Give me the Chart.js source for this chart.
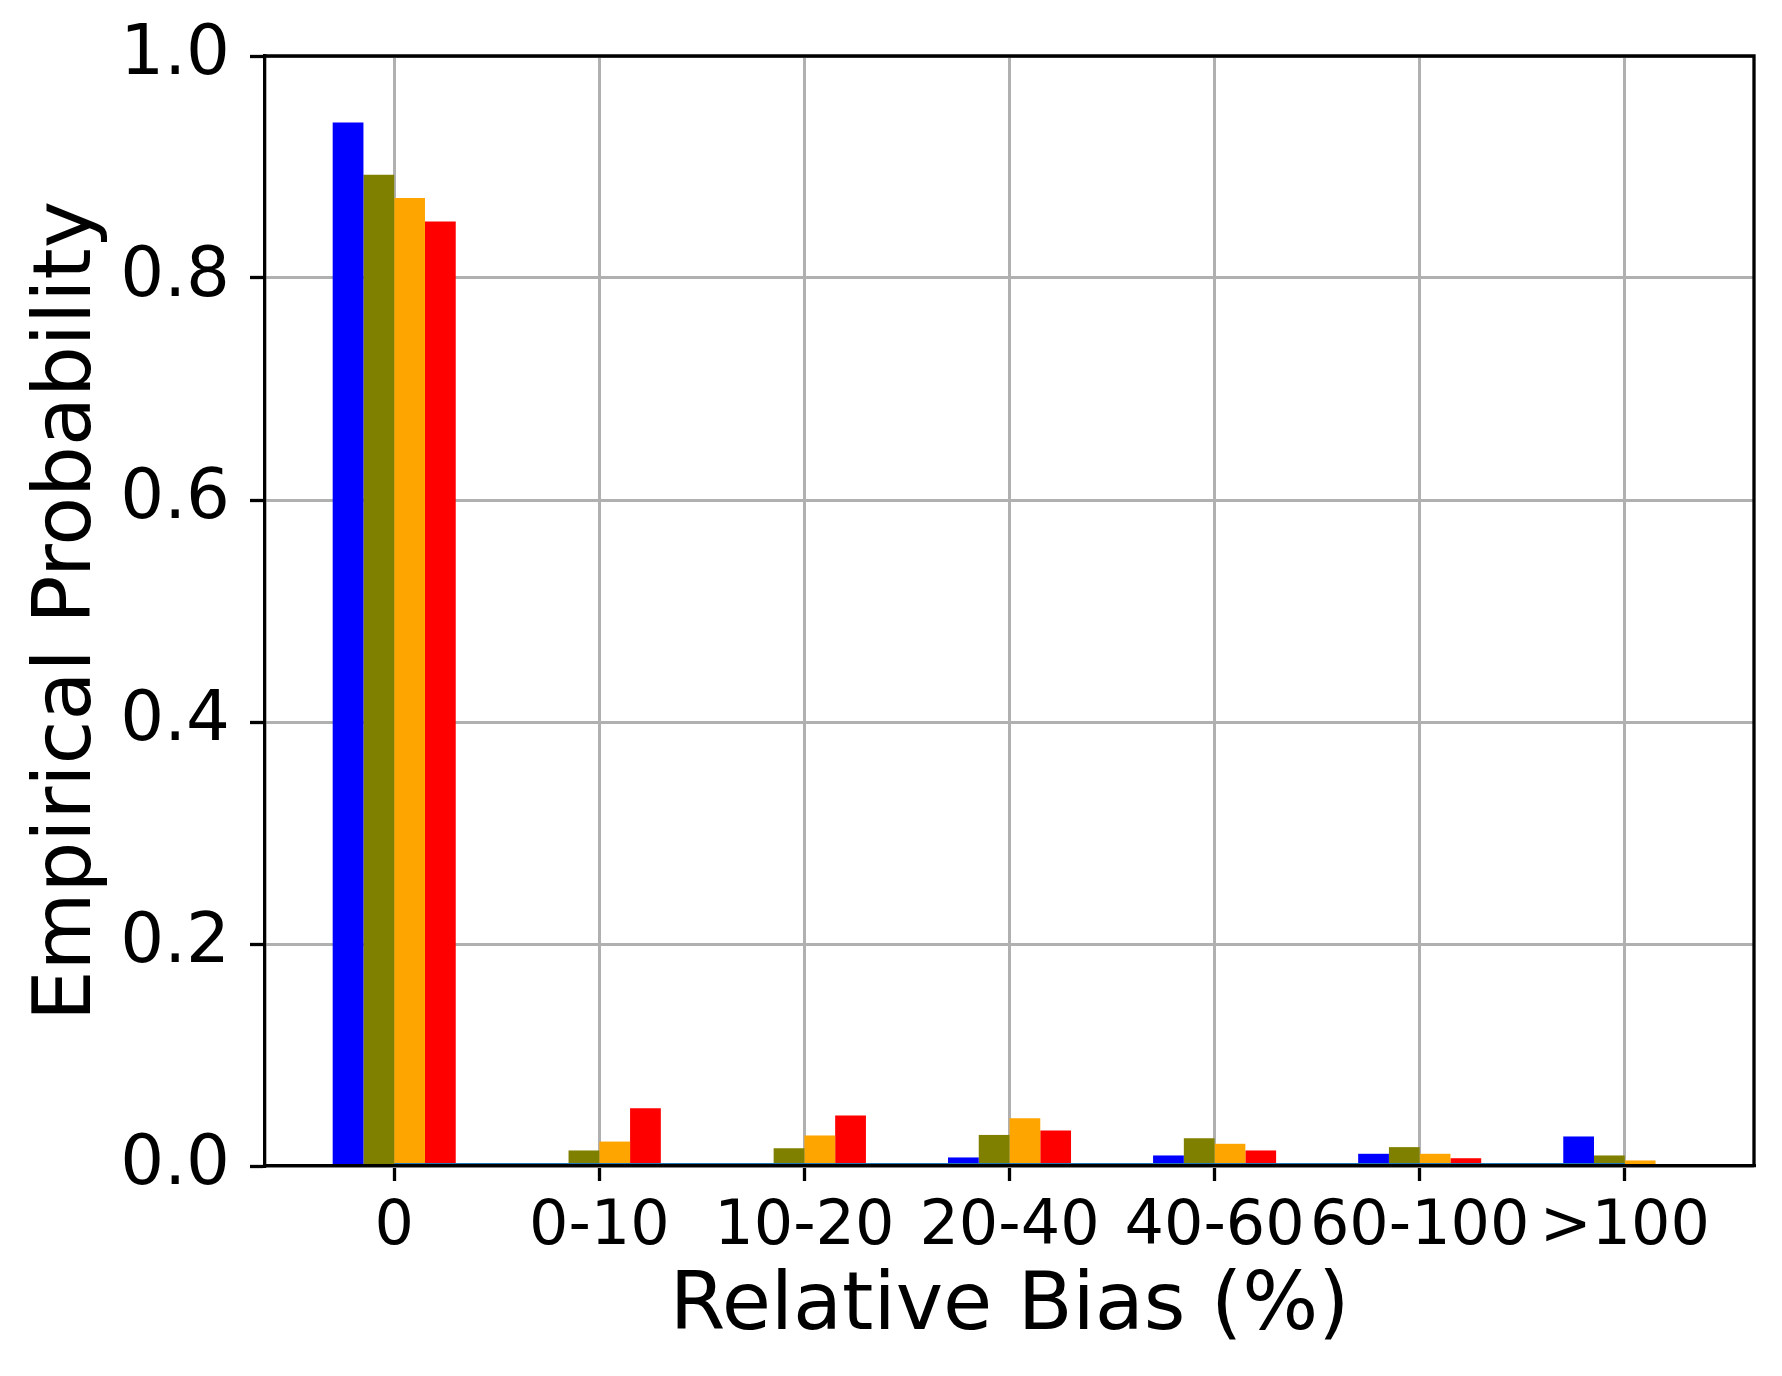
<!DOCTYPE html>
<html>
<head>
<meta charset="utf-8">
<script src="https://cdn.jsdelivr.net/npm/chart.js@4.4.1/dist/chart.umd.min.js"></script>
<style>
    body { margin: 0; background: #ffffff; }
    #miGrafico { display: block; }
</style>
</head>
<body>
<canvas id="miGrafico" width="1782" height="1376" style="width:1782px;height:1376px"></canvas>
<script>
const categorias = ['0', '0-10', '10-20', '20-40', '40-60', '60-100', '>100'];

const serieAzul = [0.940, 0.000, 0.002, 0.0077, 0.0095, 0.011, 0.0266];
const serieOliva = [0.893, 0.014, 0.016, 0.028, 0.025, 0.017, 0.0095];
const serieNaranja = [0.872, 0.022, 0.0275, 0.043, 0.020, 0.011, 0.005];
const serieRoja = [0.851, 0.052, 0.0455, 0.032, 0.014, 0.007, 0.000];
const lineaCero = [0, 0, 0, 0, 0, 0, 0];

const ticksY = [0.0, 0.2, 0.4, 0.6, 0.8, 1.0];

function puntos(valores) {
    return valores.map((v, i) => ({ x: i, y: v }));
}

function barra(label, valores, color) {
    return {
        type: 'bar',
        label: label,
        data: puntos(valores),
        backgroundColor: color,
        borderWidth: 0,
        categoryPercentage: 0.6,
        barPercentage: 1.0,
        order: 1
    };
}

// marco completo (arriba y derecha) como en matplotlib
const marco = {
    id: 'marco',
    afterDraw(chart) {
        const { ctx, chartArea } = chart;
        ctx.save();
        ctx.strokeStyle = '#000000';
        ctx.lineWidth = 3.3;
        ctx.beginPath();
        ctx.moveTo(chartArea.left, chartArea.top);
        ctx.lineTo(chartArea.right, chartArea.top);
        ctx.lineTo(chartArea.right, chartArea.bottom);
        ctx.stroke();
        ctx.restore();
    }
};

function generarGrafico() {
    const ctx = document.getElementById('miGrafico').getContext('2d');
    new Chart(ctx, {
        data: {
            datasets: [
                barra('Serie 1', serieAzul, '#0000ff'),
                barra('Serie 2', serieOliva, '#808000'),
                barra('Serie 3', serieNaranja, '#ffa500'),
                barra('Serie 4', serieRoja, '#ff0000'),
                {
                    type: 'line',
                    label: 'cero',
                    data: puntos(lineaCero),
                    borderColor: '#1f77b4',
                    borderWidth: 6,
                    pointRadius: 0,
                    fill: false,
                    order: 0
                }
            ]
        },
        options: {
            responsive: false,
            animation: false,
            devicePixelRatio: 1,
            layout: { padding: { top: 56, right: 28, left: 0, bottom: 0 } },
            plugins: {
                legend: { display: false },
                tooltip: { enabled: false }
            },
            scales: {
                x: {
                    type: 'linear',
                    min: -0.63,
                    max: 6.63,
                    offset: false,
                    z: 1,
                    afterFit: scale => { scale.height = 210; },
                    afterBuildTicks: scale => {
                        scale.ticks = categorias.map((c, i) => ({ value: i }));
                    },
                    grid: {
                        offset: false,
                        color: '#b0b0b0',
                        lineWidth: 3,
                        drawTicks: true,
                        tickLength: 15,
                        tickColor: '#000000',
                        tickWidth: 3.3
                    },
                    border: { display: true, color: '#000000', width: 3.3, z: 2 },
                    ticks: {
                        autoSkip: false,
                        maxRotation: 0,
                        padding: 10,
                        color: '#000000',
                        font: { family: 'DejaVu Sans', size: 62 },
                        callback: value => categorias[value]
                    },
                    title: {
                        display: true,
                        text: 'Relative Bias (%)',
                        color: '#000000',
                        font: { family: 'DejaVu Sans', size: 80 },
                        padding: { top: 0, bottom: 20 }
                    }
                },
                y: {
                    type: 'linear',
                    min: 0,
                    max: 1,
                    z: 1,
                    afterFit: scale => {
                        scale.width = 265;
                        scale.paddingTop = 0;
                        scale.paddingBottom = 0;
                    },
                    afterBuildTicks: scale => {
                        scale.ticks = ticksY.map(v => ({ value: v }));
                    },
                    grid: {
                        color: '#b0b0b0',
                        lineWidth: 3,
                        drawTicks: true,
                        tickLength: 15,
                        tickColor: '#000000',
                        tickWidth: 3.3
                    },
                    border: { display: true, color: '#000000', width: 3.3, z: 2 },
                    ticks: {
                        padding: 20,
                        color: '#000000',
                        font: { family: 'DejaVu Sans', size: 69 },
                        callback: value => Number(value).toFixed(1)
                    },
                    title: {
                        display: true,
                        text: 'Empirical Probability',
                        color: '#000000',
                        font: { family: 'DejaVu Sans', size: 80 },
                        padding: { top: 21, bottom: 0 }
                    }
                }
            }
        },
        plugins: [marco]
    });
}

generarGrafico();
</script>
</body>
</html>
